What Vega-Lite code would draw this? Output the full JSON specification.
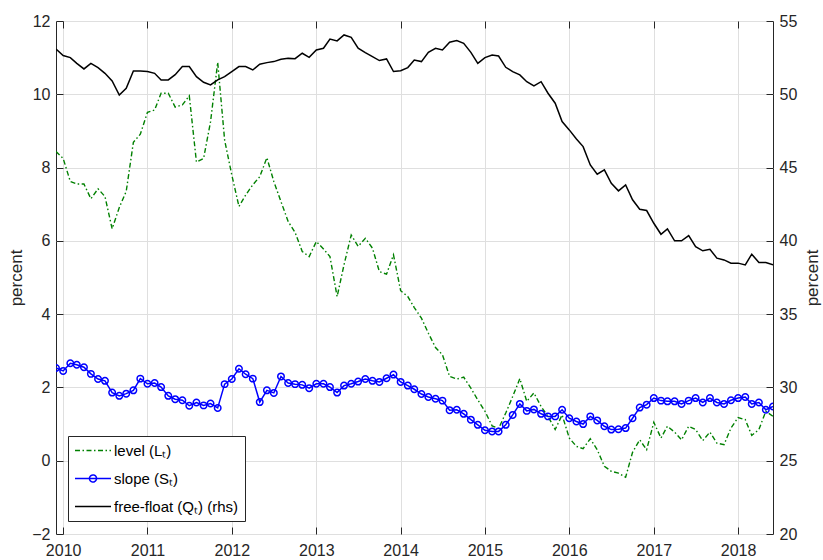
{
"$schema": "https://vega.github.io/schema/vega-lite/v6.json",
"width": 717, "height": 513,
"autosize": {"type": "none"},
"padding": {"left": 56, "top": 21, "right": 50, "bottom": 26},
"data": {"format": {"parse": {"d": "utc:'%Y-%m-%d'"}}, "values": [
{"d":"2009-12-01","L":8.44,"S":2.53,"Q":53.09},
{"d":"2010-01-01","L":8.25,"S":2.45,"Q":52.64},
{"d":"2010-02-01","L":7.62,"S":2.66,"Q":52.50},
{"d":"2010-03-01","L":7.55,"S":2.62,"Q":52.11},
{"d":"2010-04-01","L":7.55,"S":2.55,"Q":51.73},
{"d":"2010-05-01","L":7.15,"S":2.37,"Q":52.11},
{"d":"2010-06-01","L":7.42,"S":2.23,"Q":51.82},
{"d":"2010-07-01","L":7.21,"S":2.18,"Q":51.43},
{"d":"2010-08-01","L":6.33,"S":1.86,"Q":50.91},
{"d":"2010-09-01","L":6.91,"S":1.77,"Q":49.95},
{"d":"2010-10-01","L":7.35,"S":1.83,"Q":50.41},
{"d":"2010-11-01","L":8.69,"S":1.92,"Q":51.59},
{"d":"2010-12-01","L":8.91,"S":2.24,"Q":51.59},
{"d":"2011-01-01","L":9.51,"S":2.10,"Q":51.55},
{"d":"2011-02-01","L":9.57,"S":2.12,"Q":51.43},
{"d":"2011-03-01","L":10.03,"S":2.01,"Q":50.98},
{"d":"2011-04-01","L":10.03,"S":1.77,"Q":50.98},
{"d":"2011-05-01","L":9.65,"S":1.68,"Q":51.34},
{"d":"2011-06-01","L":9.71,"S":1.65,"Q":51.89},
{"d":"2011-07-01","L":9.96,"S":1.50,"Q":51.89},
{"d":"2011-08-01","L":8.15,"S":1.59,"Q":51.20},
{"d":"2011-09-01","L":8.25,"S":1.51,"Q":50.82},
{"d":"2011-10-01","L":9.25,"S":1.56,"Q":50.64},
{"d":"2011-11-01","L":10.87,"S":1.44,"Q":50.98},
{"d":"2011-12-01","L":8.75,"S":2.09,"Q":51.20},
{"d":"2012-01-01","L":7.80,"S":2.23,"Q":51.55},
{"d":"2012-02-01","L":6.94,"S":2.51,"Q":51.89},
{"d":"2012-03-01","L":7.25,"S":2.36,"Q":51.89},
{"d":"2012-04-01","L":7.53,"S":2.24,"Q":51.66},
{"d":"2012-05-01","L":7.75,"S":1.60,"Q":52.05},
{"d":"2012-06-01","L":8.27,"S":1.92,"Q":52.16},
{"d":"2012-07-01","L":7.62,"S":1.85,"Q":52.23},
{"d":"2012-08-01","L":7.07,"S":2.30,"Q":52.39},
{"d":"2012-09-01","L":6.53,"S":2.12,"Q":52.45},
{"d":"2012-10-01","L":6.23,"S":2.09,"Q":52.43},
{"d":"2012-11-01","L":5.71,"S":2.07,"Q":52.80},
{"d":"2012-12-01","L":5.57,"S":1.98,"Q":52.52},
{"d":"2013-01-01","L":5.98,"S":2.10,"Q":53.02},
{"d":"2013-02-01","L":5.78,"S":2.10,"Q":53.14},
{"d":"2013-03-01","L":5.57,"S":2.01,"Q":53.77},
{"d":"2013-04-01","L":4.48,"S":1.86,"Q":53.64},
{"d":"2013-05-01","L":5.35,"S":2.05,"Q":54.05},
{"d":"2013-06-01","L":6.16,"S":2.10,"Q":53.89},
{"d":"2013-07-01","L":5.85,"S":2.16,"Q":53.14},
{"d":"2013-08-01","L":6.07,"S":2.23,"Q":52.84},
{"d":"2013-09-01","L":5.80,"S":2.18,"Q":52.57},
{"d":"2013-10-01","L":5.16,"S":2.15,"Q":52.30},
{"d":"2013-11-01","L":5.09,"S":2.25,"Q":52.41},
{"d":"2013-12-01","L":5.62,"S":2.35,"Q":51.55},
{"d":"2014-01-01","L":4.64,"S":2.15,"Q":51.61},
{"d":"2014-02-01","L":4.48,"S":2.05,"Q":51.82},
{"d":"2014-03-01","L":4.18,"S":1.95,"Q":52.34},
{"d":"2014-04-01","L":3.89,"S":1.82,"Q":52.23},
{"d":"2014-05-01","L":3.48,"S":1.74,"Q":52.86},
{"d":"2014-06-01","L":3.09,"S":1.69,"Q":53.14},
{"d":"2014-07-01","L":2.89,"S":1.64,"Q":53.02},
{"d":"2014-08-01","L":2.30,"S":1.38,"Q":53.55},
{"d":"2014-09-01","L":2.23,"S":1.39,"Q":53.66},
{"d":"2014-10-01","L":2.28,"S":1.28,"Q":53.48},
{"d":"2014-11-01","L":1.98,"S":1.12,"Q":52.86},
{"d":"2014-12-01","L":1.66,"S":0.98,"Q":52.11},
{"d":"2015-01-01","L":1.35,"S":0.83,"Q":52.50},
{"d":"2015-02-01","L":0.95,"S":0.80,"Q":52.68},
{"d":"2015-03-01","L":0.88,"S":0.80,"Q":52.61},
{"d":"2015-04-01","L":1.30,"S":0.98,"Q":51.84},
{"d":"2015-05-01","L":1.75,"S":1.25,"Q":51.55},
{"d":"2015-06-01","L":2.24,"S":1.55,"Q":51.32},
{"d":"2015-07-01","L":1.62,"S":1.36,"Q":50.86},
{"d":"2015-08-01","L":1.85,"S":1.40,"Q":50.57},
{"d":"2015-09-01","L":1.48,"S":1.28,"Q":50.86},
{"d":"2015-10-01","L":1.21,"S":1.21,"Q":50.07},
{"d":"2015-11-01","L":0.85,"S":1.21,"Q":49.39},
{"d":"2015-12-01","L":1.25,"S":1.39,"Q":48.14},
{"d":"2016-01-01","L":0.62,"S":1.16,"Q":47.57},
{"d":"2016-02-01","L":0.39,"S":1.07,"Q":46.95},
{"d":"2016-03-01","L":0.33,"S":1.00,"Q":46.43},
{"d":"2016-04-01","L":0.60,"S":1.21,"Q":45.18},
{"d":"2016-05-01","L":0.30,"S":1.10,"Q":44.55},
{"d":"2016-06-01","L":-0.15,"S":0.94,"Q":44.84},
{"d":"2016-07-01","L":-0.29,"S":0.85,"Q":43.93},
{"d":"2016-08-01","L":-0.34,"S":0.86,"Q":43.41},
{"d":"2016-09-01","L":-0.45,"S":0.89,"Q":43.82},
{"d":"2016-10-01","L":0.23,"S":1.16,"Q":42.80},
{"d":"2016-11-01","L":0.57,"S":1.45,"Q":42.16},
{"d":"2016-12-01","L":0.30,"S":1.53,"Q":42.07},
{"d":"2017-01-01","L":1.05,"S":1.71,"Q":41.20},
{"d":"2017-02-01","L":0.62,"S":1.64,"Q":40.45},
{"d":"2017-03-01","L":0.94,"S":1.62,"Q":40.82},
{"d":"2017-04-01","L":0.78,"S":1.62,"Q":40.00},
{"d":"2017-05-01","L":0.57,"S":1.55,"Q":40.00},
{"d":"2017-06-01","L":0.94,"S":1.64,"Q":40.36},
{"d":"2017-07-01","L":0.85,"S":1.71,"Q":39.61},
{"d":"2017-08-01","L":0.55,"S":1.59,"Q":39.32},
{"d":"2017-09-01","L":0.78,"S":1.71,"Q":39.43},
{"d":"2017-10-01","L":0.48,"S":1.59,"Q":38.82},
{"d":"2017-11-01","L":0.44,"S":1.55,"Q":38.70},
{"d":"2017-12-01","L":0.89,"S":1.65,"Q":38.48},
{"d":"2018-01-01","L":1.18,"S":1.71,"Q":38.48},
{"d":"2018-02-01","L":1.12,"S":1.74,"Q":38.36},
{"d":"2018-03-01","L":0.69,"S":1.55,"Q":39.09},
{"d":"2018-04-01","L":0.85,"S":1.59,"Q":38.52},
{"d":"2018-05-01","L":1.35,"S":1.39,"Q":38.52},
{"d":"2018-06-01","L":1.21,"S":1.48,"Q":38.36}
]},
"layer": [
 {
  "layer": [
   {
    "mark": {"type": "line", "strokeDash": [5, 2.5, 1.5, 2.5], "strokeWidth": 1.4, "clip": true},
    "encoding": {
     "x": {"field": "d", "type": "temporal",
       "scale": {"type": "utc", "domain": [{"year": 2009, "month": 12, "date": 1, "utc": true}, {"year": 2018, "month": 6, "date": 1, "utc": true}]},
       "axis": {"orient": "bottom", "title": null, "format": "%Y", "formatType": "utc",
         "values": [{"year":2010,"month":1,"date":1,"utc":true},{"year":2011,"month":1,"date":1,"utc":true},{"year":2012,"month":1,"date":1,"utc":true},{"year":2013,"month":1,"date":1,"utc":true},{"year":2014,"month":1,"date":1,"utc":true},{"year":2015,"month":1,"date":1,"utc":true},{"year":2016,"month":1,"date":1,"utc":true},{"year":2017,"month":1,"date":1,"utc":true},{"year":2018,"month":1,"date":1,"utc":true}],
         "grid": true, "tickSize": -7, "labelPadding": 15}},
     "y": {"field": "L", "type": "quantitative", "scale": {"domain": [-2, 12], "nice": false, "zero": false},
       "axis": {"orient": "left", "title": "percent", "values": [-2,0,2,4,6,8,10,12], "grid": true, "tickSize": -7, "labelPadding": 13, "titlePadding": 6}},
     "color": {"datum": "L", "type": "nominal",
       "scale": {"domain": ["L", "S", "Q"], "range": ["#008000", "#0000ff", "#000000"]},
       "legend": {
         "orient": "none", "legendX": 12, "legendY": 415, "title": null,
         "strokeColor": "#262626", "fillColor": "#ffffff", "padding": 6,
         "labelFont": "Liberation Sans", "labelFontSize": 15, "labelColor": "#000000",
         "symbolSize": 225, "symbolStrokeWidth": 1.5, "labelOffset": 23, "rowPadding": 11,
         "labelExpr": "datum.value === 'L' ? 'level (Lₜ)' : datum.value === 'S' ? 'slope (Sₜ)' : 'free-float (Qₜ) (rhs)'",
         "encode": {"symbols": {"update": {
           "shape": {"signal": "datum.value === 'S' ? 'M-1,0L3.8,0M1.87,0A0.47,0.47 0 1,1 0.93,0A0.47,0.47 0 1,1 1.87,0' : 'M-1,0L3.8,0'"},
           "strokeDash": {"signal": "datum.value === 'L' ? [5, 2.5, 1.5, 2.5] : [1, 0]"},
           "fill": {"value": "transparent"}
         }}}
       }}
    }
   },
   {
    "mark": {"type": "line", "strokeWidth": 1.5, "clip": true},
    "encoding": {
     "x": {"field": "d", "type": "temporal"},
     "y": {"field": "S", "type": "quantitative", "axis": {"title": "percent"}},
     "color": {"datum": "S", "type": "nominal"}
    }
   },
   {
    "mark": {"type": "point", "filled": false, "strokeWidth": 1.5, "size": 42, "opacity": 1, "clip": true},
    "encoding": {
     "x": {"field": "d", "type": "temporal"},
     "y": {"field": "S", "type": "quantitative", "axis": {"title": "percent"}},
     "color": {"datum": "S", "type": "nominal"}
    }
   }
  ]
 },
 {
  "mark": {"type": "line", "strokeWidth": 1.5, "clip": true},
  "encoding": {
   "x": {"field": "d", "type": "temporal",
     "axis": {"orient": "top", "title": null, "labels": false, "grid": false, "tickSize": -7,
       "values": [{"year":2010,"month":1,"date":1,"utc":true},{"year":2011,"month":1,"date":1,"utc":true},{"year":2012,"month":1,"date":1,"utc":true},{"year":2013,"month":1,"date":1,"utc":true},{"year":2014,"month":1,"date":1,"utc":true},{"year":2015,"month":1,"date":1,"utc":true},{"year":2016,"month":1,"date":1,"utc":true},{"year":2017,"month":1,"date":1,"utc":true},{"year":2018,"month":1,"date":1,"utc":true}]}},
   "y": {"field": "Q", "type": "quantitative", "scale": {"domain": [20, 55], "nice": false, "zero": false},
     "axis": {"orient": "right", "title": "percent", "values": [20,25,30,35,40,45,50,55], "grid": false, "tickSize": -7, "labelPadding": 13, "titlePadding": 25, "titleAngle": -90}},
   "color": {"datum": "Q", "type": "nominal"}
  }
 }
],
"resolve": {"scale": {"y": "independent"}, "axis": {"x": "independent", "y": "independent"}},
"config": {
 "font": "Liberation Sans",
 "view": {"stroke": "#262626", "strokeWidth": 1},
 "axis": {"domain": false, "gridColor": "#dfdfdf", "gridWidth": 1, "tickColor": "#262626", "tickWidth": 1,
   "labelFont": "Liberation Sans", "labelFontSize": 16, "labelColor": "#262626",
   "titleFont": "Liberation Sans", "titleFontSize": 17, "titleFontWeight": "normal", "titleColor": "#262626"},
 "legend": {"labelFont": "Liberation Sans"}
}
}
